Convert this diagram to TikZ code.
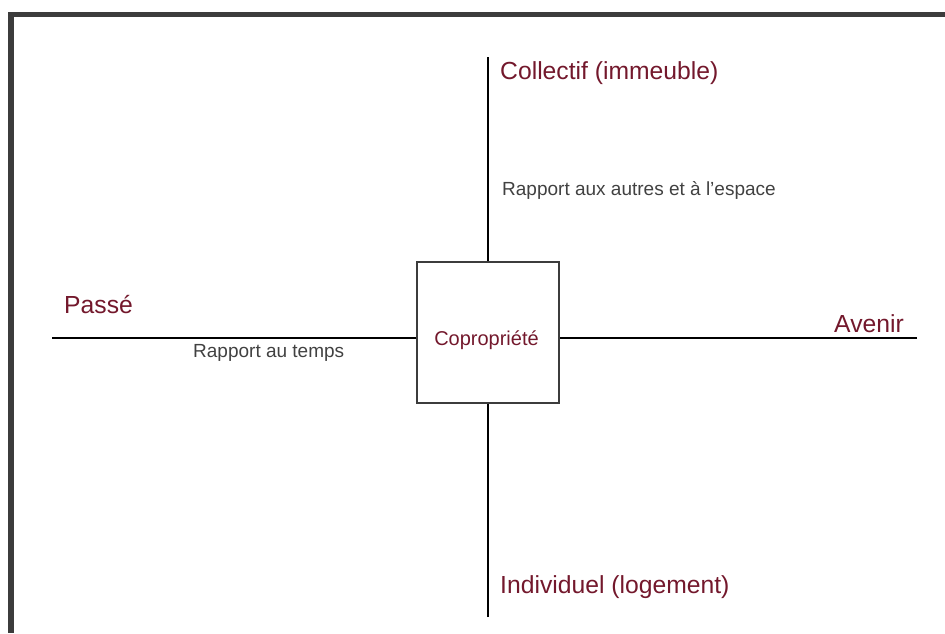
\documentclass[tikz,border=0pt]{standalone}
\usepackage{fontspec}
\setmainfont{Liberation Sans}
\usepackage{tikz}
\definecolor{wine}{RGB}{115,24,44}
\definecolor{greytext}{RGB}{65,65,65}
\definecolor{frame}{RGB}{60,60,60}

\begin{document}
\begin{tikzpicture}[x=1pt,y=-1pt]
    \tikzstyle{pole}=[text=wine,font=\fontsize{24.7}{28}\selectfont,inner sep=0pt]
    \tikzstyle{relation}=[text=greytext,font=\fontsize{19}{22}\selectfont,inner sep=0pt]
    \tikzstyle{centre}=[draw=frame,line width=1.2pt,minimum width=142pt,minimum height=141pt]
    \tikzstyle{axis}=[draw=black, line width=1.3pt]

    \def\cx{488}
    \def\cy{338}

    \useasboundingbox (0,0) rectangle (945,633);
    \fill[frame] (8,12) rectangle (945,17);
    \fill[frame] (8,12) rectangle (14,633);

    \node[centre]  (copro) at (\cx,332.5) {};
    \node[text=wine,font=\fontsize{20}{23}\selectfont,inner sep=0pt] (coprotext) at (486.5,340) {Copropriété};

    \coordinate (haut) at (\cx,57);
    \coordinate (bas) at (\cx,617);
    \coordinate (gauche) at (52,\cy);
    \coordinate (droite) at (917,\cy);

    \draw [axis] (haut) -- (copro.north);
    \draw [axis] (bas) -- (copro.south);
    \draw [axis] (gauche) -- (gauche -| copro.west);
    \draw [axis] (droite) -- (droite -| copro.east);

    \node[pole,anchor=west]  (collectif) at (500,73) {Collectif (immeuble)};
    \node[relation,anchor=west]  (espace) at (502,190) {Rapport aux autres et à l'espace};
    \node[pole,anchor=west]  (passe) at (64,305) {Passé};
    \node[relation,anchor=west]  (temps) at (193,353) {Rapport au temps};
    \node[pole,anchor=east]  (avenir) at (904,324) {Avenir};
    \node[pole,anchor=west]  (individuel) at (500,587) {Individuel (logement)};

\end{tikzpicture}
\end{document}
